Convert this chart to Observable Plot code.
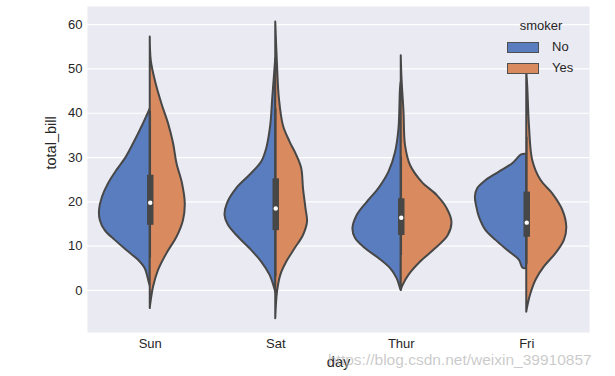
<!DOCTYPE html>
<html><head><meta charset="utf-8">
<script src="https://cdn.jsdelivr.net/npm/d3@7"></script>
<script src="https://cdn.jsdelivr.net/npm/@observablehq/plot@0.6"></script>
<style>
body{margin:0;background:#fff;}
#wrap{position:relative;width:615px;height:376px;font-family:"Liberation Sans",Arial,sans-serif;}
.leg{position:absolute;color:#262626;font-size:13px;line-height:16px;white-space:nowrap;}
.sw{position:absolute;width:30px;height:9px;border:1px solid #505050;}
.wm{position:absolute;left:328px;top:351px;font-size:15.5px;line-height:18px;color:rgba(185,185,185,0.75);white-space:nowrap;}
</style></head><body><div id="wrap"></div>
<script>
// categories
const days = ["Sun", "Sat", "Thur", "Fri"];
const smokers = ["No", "Yes"];
const yTicks = [0, 10, 20, 30, 40, 50, 60];

// violin half profiles: [total_bill, half-width as fraction of category spacing]
const sunNo = [[41.0,0],[36.9,.066],[33.1,.133],[29.7,.199],[27.1,.265],[24.1,.332],[21.1,.380],[18.1,.404],[15.8,.398],[13.5,.359],[11.3,.279],[9.0,.186],[6.8,.093],[4.9,.040],[1.5,.006],[1.0,0]];
const sunYes = [[57.2,0],[51.9,.008],[47.4,.040],[42.1,.093],[37.6,.146],[33.1,.186],[28.6,.213],[24.1,.257],[19.6,.279],[15.8,.265],[12.0,.213],[8.3,.133],[4.5,.066],[0.7,.026],[-2.3,.008],[-4.1,0]];
const satNo = [[52.3,0],[43.3,.024],[37.2,.040],[32.0,.072],[29.0,.112],[26.0,.205],[23.0,.311],[19.6,.385],[16.9,.404],[14.7,.377],[12.0,.297],[9.4,.205],[6.4,.112],[3.4,.045],[0.4,.008],[-0.5,0]];
const satYes = [[60.6,0],[50.8,.014],[43.3,.029],[37.2,.061],[33.5,.114],[30.5,.167],[27.5,.207],[23.0,.221],[18.4,.241],[15.4,.253],[12.4,.221],[9.4,.154],[6.4,.088],[3.4,.040],[-0.4,.014],[-6.4,0]];
const thurNo = [[47.0,0],[45.5,.006],[36.5,.018],[31.2,.045],[26.7,.098],[23.0,.178],[19.9,.271],[16.9,.351],[13.9,.385],[11.7,.364],[9.4,.284],[7.2,.178],[4.9,.085],[2.6,.032],[0.4,.006],[0,0]];
const thurYes = [[53.0,0],[47.8,.006],[40.2,.022],[32.7,.034],[28.2,.074],[24.4,.167],[21.4,.287],[18.4,.367],[15.4,.404],[12.4,.375],[9.4,.273],[6.4,.154],[3.4,.061],[1.1,.014],[0,0]];
const friNo = [[30.7,0],[30.6,.040],[28.6,.112],[26.7,.218],[24.8,.324],[23.0,.390],[21.1,.409],[18.8,.398],[16.5,.377],[13.5,.324],[11.3,.245],[9.0,.151],[6.8,.058],[5.0,.030],[4.9,0]];
const friYes = [[49.5,0],[45.9,.008],[36.9,.022],[29.3,.048],[24.8,.114],[21.8,.207],[18.1,.287],[14.3,.319],[11.3,.300],[8.3,.233],[5.3,.141],[2.3,.074],[-0.7,.034],[-3.4,.010],[-4.9,0]];

// inner box statistics (per day, same order as days)
const whiskerLow = [7.3, 3.1, 7.9, 5.8];
const q1 = [14.7, 13.5, 12.4, 12.0];
const median = [19.8, 18.5, 16.4, 15.3];
const q3 = [26.0, 25.2, 20.7, 22.2];
const whiskerHigh = [40.5, 41.0, 30.1, 34.6];

const profiles = {
  Sun: {No: sunNo, Yes: sunYes},
  Sat: {No: satNo, Yes: satYes},
  Thur: {No: thurNo, Yes: thurYes},
  Fri: {No: friNo, Yes: friYes}
};

const rows = [];
days.forEach((day, i) => {
  smokers.forEach(sm => {
    profiles[day][sm].forEach(([v, w]) => rows.push({day, i, smoker: sm, v, w}));
  });
});
const boxes = days.map((day, i) => ({day, i, lo: whiskerLow[i], q1: q1[i], med: median[i], q3: q3[i], hi: whiskerHigh[i]}));

const blue = "#597DBF", orange = "#D98B5F", edge = "#474747";

const chart = Plot.plot({
  width: 615, height: 376,
  marginLeft: 87, marginRight: 26, marginTop: 6, marginBottom: 44,
  style: {fontFamily: "'Liberation Sans', Arial, sans-serif", fontSize: "13px", color: "#262626", background: "transparent"},
  x: {domain: [-0.5, 3.5]},
  y: {domain: [-9.5, 64.1]},
  color: {domain: smokers, range: [blue, orange]},
  marks: [
    Plot.frame({fill: "#EAEAF2", stroke: null}),
    Plot.gridY(yTicks, {stroke: "white", strokeOpacity: 1, strokeWidth: 1.2}),
    Plot.areaX(rows, {
      y: "v",
      x1: d => d.smoker === "No" ? d.i - d.w : d.i,
      x2: d => d.smoker === "No" ? d.i : d.i + d.w,
      z: d => d.day + d.smoker,
      fill: "smoker",
      stroke: edge, strokeWidth: 2, strokeLinejoin: "round",
      curve: "catmull-rom"
    }),
    Plot.ruleX(boxes, {x: "i", y1: "lo", y2: "hi", stroke: edge, strokeWidth: 1.6}),
    Plot.ruleX(boxes, {x: "i", y1: "q1", y2: "q3", stroke: edge, strokeWidth: 6.5}),
    Plot.dot(boxes, {x: "i", y: "med", r: 2.2, fill: "white", stroke: null}),
    Plot.axisX([0, 1, 2, 3], {tickFormat: i => days[i], tickSize: 0, tickPadding: 6, label: null, fill: "#262626"}),
    Plot.axisY(yTicks, {tickSize: 0, tickPadding: 5, label: null, fill: "#262626"}),
    Plot.text(["total_bill"], {frameAnchor: "left", dx: -36, rotate: -90, fontSize: 14.5, fill: "#262626"}),
    Plot.text(["day"], {frameAnchor: "bottom", dy: 34, fontSize: 14.5, fill: "#262626"})
  ]
});

const wrap = document.getElementById("wrap");
wrap.appendChild(chart);

// legend
function add(html, cls, css) {
  const el = document.createElement("div");
  el.className = cls;
  if (html != null) el.textContent = html;
  Object.assign(el.style, css);
  wrap.appendChild(el);
}
add("smoker", "leg", {left: "505px", top: "18px", width: "72px", textAlign: "center"});
smokers.forEach((s, k) => {
  add(null, "sw", {left: "507px", top: (42 + k * 21) + "px", background: k ? orange : blue});
  add(s, "leg", {left: "552px", top: (39 + k * 21) + "px"});
});
add("https://blog.csdn.net/weixin_39910857", "wm", {});
</script></body></html>
